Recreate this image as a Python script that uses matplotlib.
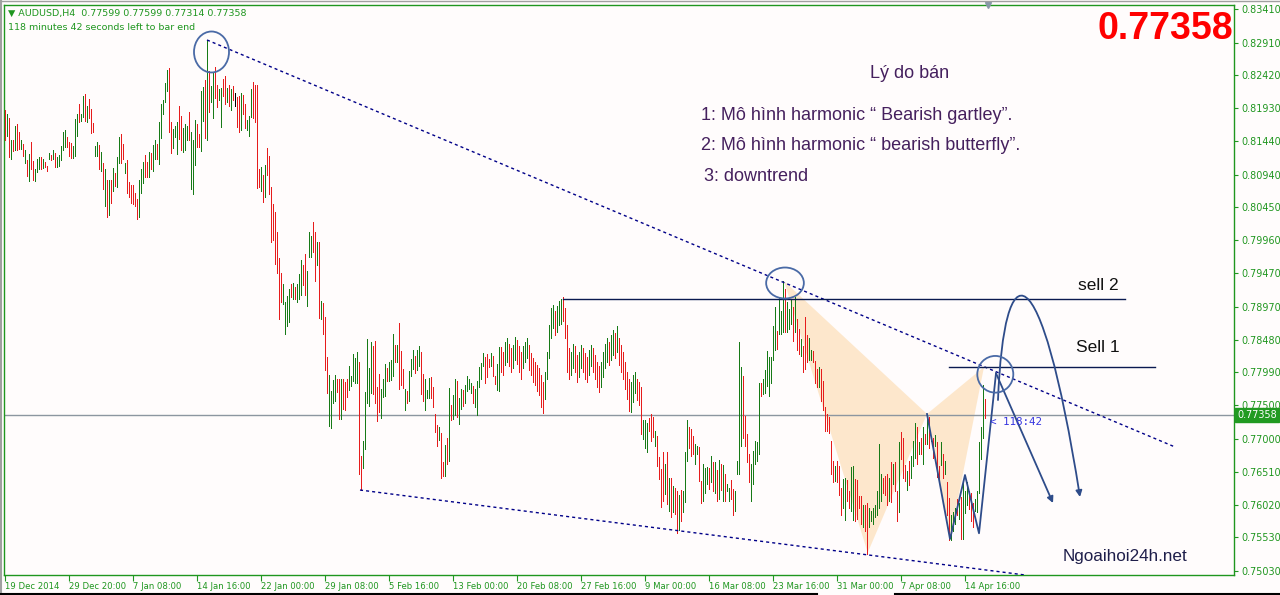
import numpy as np
import matplotlib
matplotlib.use("Agg")
import matplotlib.pyplot as plt
import matplotlib.transforms as mtransforms
from matplotlib.patches import Ellipse, Polygon, FancyArrowPatch
from matplotlib.path import Path
from matplotlib.lines import Line2D

# --- AUDUSD H4 bars, high / low in pips (1 pip = 0.0001) ---
high_pips = [
    # 19 Dec - 29 Dec
    8190, 8184, 8179, 8146, 8146, 8167, 8170, 8158, 8145, 8140,
    8130, 8116, 8125, 8142, 8115, 8102, 8118, 8121, 8120, 8118,
    8113, 8107, 8127, 8124, 8130, 8127, 8121, 8124, 8136, 8158,
    8160, 8150, 8142, 8141, 8137, 8177, 8185, 8200, 8185, 8212,
    8214, 8196, 8207, 8192, 8171, 8137, 8143, 8138,
    # 30 Dec - 14 Jan
    8128, 8112, 8103, 8086, 8086, 8086, 8104, 8097, 8121, 8150,
    8155, 8139, 8112, 8116, 8083, 8079, 8079, 8067, 8057, 8086,
    8103, 8113, 8123, 8113, 8128, 8127, 8138, 8145, 8139, 8172,
    8200, 8206, 8230, 8250, 8253, 8172, 8162, 8167, 8172, 8196,
    8181, 8163, 8170, 8167, 8187, 8158, 8145, 8176, 8170, 8155,
    # 14 Jan - 28 Jan
    8218, 8225, 8235, 8295, 8248, 8226, 8246, 8255, 8228, 8222,
    8223, 8236, 8241, 8223, 8228, 8222, 8226, 8216, 8210, 8211,
    8215, 8213, 8200, 8176, 8182, 8221, 8232, 8228, 8227, 8102,
    8105, 8093, 8108, 8134, 8122, 8075, 8050, 8039, 8008, 7969,
    7947, 7931, 7904, 7913, 7924, 7931, 7933, 7926, 7931, 7946,
    # 28 Jan - 12 Feb
    7966, 7959, 7975, 7951, 8008, 8002, 8023, 8009, 7993, 7994,
    7905, 7903, 7881, 7822, 7795, 7772, 7788, 7795, 7789, 7790,
    7789, 7789, 7785, 7789, 7809, 7794, 7827, 7820, 7830, 7815,
    7674, 7697, 7770, 7849, 7805, 7844, 7839, 7846, 7778, 7797,
    7774, 7790, 7812, 7805, 7814, 7818, 7856, 7840, 7840, 7873,
    # 12 Feb - 19 Feb
    7831, 7804, 7774, 7772, 7801, 7819, 7832, 7824, 7833, 7839,
    7829, 7796, 7789, 7773, 7791, 7792, 7778, 7737, 7720, 7718,
    7708, 7665, 7691, 7702, 7776, 7751, 7766, 7789, 7787, 7761,
    7774, 7773, 7781, 7793, 7789, 7783, 7779, 7774, 7787, 7807,
    7813, 7828, 7822, 7827, 7819, 7828, 7824, 7794, 7811, 7837,
    # 20 Feb - 6 Mar
    7837, 7830, 7845, 7850, 7842, 7835, 7840, 7852, 7848, 7838,
    7830, 7838, 7845, 7850, 7840, 7828, 7820, 7815, 7810, 7805,
    7795, 7785, 7800, 7830, 7870, 7895, 7900, 7890, 7898, 7905,
    7908, 7912, 7895, 7870, 7835, 7830, 7842, 7838, 7825, 7830,
    7840, 7835, 7828, 7822, 7832, 7840, 7835, 7825, 7815, 7808,
    7815, 7830, 7842, 7850, 7845, 7855, 7862, 7858, 7868, 7850,
    7840, 7830, 7815, 7800, 7790, 7785, 7795, 7800, 7790, 7785,
    # 9 Mar - 17 Apr
    7777, 7728, 7728, 7723, 7731, 7737, 7733, 7712, 7705, 7673,
    7655, 7680, 7663, 7680, 7641, 7642, 7630, 7627, 7622, 7616,
    7623, 7622, 7680, 7728, 7717, 7715, 7705, 7692, 7690, 7688,
    7637, 7663, 7656, 7658, 7657, 7675, 7665, 7666, 7653, 7668,
    7662, 7661, 7647, 7633, 7626, 7638, 7625, 7622, 7667, 7845,
    7807, 7794, 7734, 7707, 7678, 7662, 7682, 7697, 7695, 7784,
    7784, 7789, 7802, 7831, 7822, 7822, 7869, 7896, 7861, 7911,
    7891, 7935, 7924, 7904, 7894, 7909, 7896, 7912, 7879, 7864,
    7849, 7839, 7881, 7855, 7851, 7832, 7831, 7816, 7804, 7807,
    7804, 7787, 7747, 7737, 7732, 7697, 7667, 7660, 7667, 7660,
    7626, 7640, 7641, 7638, 7622, 7658, 7660, 7640, 7638, 7615,
    7615, 7602, 7601, 7605, 7597, 7593, 7597, 7602, 7622, 7693,
    7647, 7642, 7645, 7647, 7642, 7665, 7662, 7665, 7622, 7696,
    7710, 7702, 7661, 7652, 7667, 7675, 7697, 7724, 7717, 7695,
    7702, 7717, 7707, 7736, 7732, 7705, 7702, 7706, 7695, 7660,
    7695, 7678, 7667, 7636, 7612, 7587, 7591, 7597, 7611, 7605,
    7613, 7637, 7622, 7635, 7622, 7620, 7605, 7610, 7622, 7695,
    7717, 7781, 7760,
]
low_pips = [
    8145, 8152, 8120, 8118, 8129, 8131, 8131, 8132, 8132, 8122,
    8112, 8092, 8084, 8102, 8086, 8084, 8098, 8103, 8102, 8104,
    8105, 8100, 8117, 8116, 8118, 8105, 8106, 8107, 8116, 8130,
    8135, 8135, 8122, 8119, 8119, 8122, 8152, 8173, 8174, 8180,
    8174, 8173, 8179, 8156, 8157, 8122, 8122, 8102,
    8099, 8073, 8047, 8031, 8034, 8052, 8070, 8077, 8076, 8112,
    8112, 8117, 8097, 8066, 8060, 8051, 8050, 8047, 8028, 8031,
    8066, 8081, 8090, 8090, 8090, 8102, 8100, 8117, 8117, 8110,
    8148, 8185, 8203, 8218, 8158, 8127, 8133, 8150, 8125, 8147,
    8131, 8128, 8131, 8145, 8145, 8073, 8065, 8108, 8135, 8135,
    8129, 8174, 8149, 8145, 8187, 8202, 8178, 8208, 8195, 8206,
    8165, 8212, 8200, 8202, 8196, 8191, 8205, 8196, 8165, 8157,
    8160, 8185, 8164, 8160, 8152, 8180, 8178, 8172, 8074, 8075,
    8069, 8053, 8060, 8093, 8065, 7993, 7997, 7961, 7947, 7879,
    7904, 7901, 7856, 7869, 7874, 7911, 7909, 7909, 7904, 7909,
    7915, 7930, 7915, 7898, 7971, 7971, 7978, 7936, 7959, 7880,
    7879, 7856, 7802, 7769, 7719, 7716, 7754, 7757, 7770, 7729,
    7729, 7744, 7743, 7762, 7773, 7779, 7787, 7784, 7784, 7647,
    7624, 7657, 7685, 7753, 7749, 7769, 7767, 7754, 7727, 7740,
    7731, 7762, 7764, 7787, 7787, 7788, 7794, 7814, 7815, 7774,
    7781, 7776, 7743, 7754, 7756, 7793, 7804, 7798, 7803, 7809,
    7767, 7756, 7743, 7761, 7761, 7761, 7748, 7710, 7690, 7698,
    7641, 7645, 7645, 7663, 7667, 7728, 7730, 7736, 7733, 7722,
    7744, 7749, 7753, 7771, 7774, 7769, 7754, 7747, 7736, 7777,
    7789, 7808, 7784, 7792, 7807, 7808, 7793, 7782, 7773, 7771,
    7800, 7795, 7810, 7815, 7808, 7800, 7805, 7818, 7812, 7800,
    7790, 7805, 7815, 7820, 7802, 7795, 7785, 7780, 7772, 7765,
    7748, 7738, 7760, 7790, 7820, 7850, 7865, 7855, 7860, 7870,
    7872, 7875, 7850, 7800, 7790, 7795, 7805, 7800, 7785, 7792,
    7805, 7800, 7790, 7785, 7795, 7808, 7800, 7790, 7778, 7770,
    7778, 7792, 7805, 7815, 7810, 7818, 7825, 7820, 7830, 7810,
    7800, 7790, 7775, 7760, 7742, 7740, 7755, 7768, 7758, 7750,
    7707, 7700, 7687, 7680, 7712, 7697, 7703, 7690, 7660, 7640,
    7598, 7607, 7618, 7603, 7593, 7584, 7591, 7588, 7559, 7564,
    7578, 7591, 7606, 7667, 7687, 7675, 7677, 7663, 7677, 7637,
    7605, 7608, 7620, 7632, 7625, 7635, 7622, 7620, 7608, 7610,
    7623, 7608, 7608, 7622, 7607, 7610, 7587, 7593, 7647, 7647,
    7690, 7702, 7690, 7665, 7635, 7607, 7632, 7662, 7667, 7677,
    7764, 7767, 7769, 7779, 7764, 7784, 7817, 7832, 7834, 7856,
    7856, 7859, 7860, 7859, 7864, 7871, 7846, 7859, 7833, 7827,
    7824, 7799, 7804, 7814, 7817, 7817, 7814, 7784, 7777, 7778,
    7757, 7743, 7712, 7712, 7708, 7647, 7635, 7637, 7635, 7617,
    7587, 7597, 7579, 7607, 7597, 7593, 7579, 7578, 7580, 7597,
    7573, 7568, 7563, 7529, 7568, 7578, 7573, 7584, 7587, 7597,
    7607, 7620, 7617, 7602, 7607, 7606, 7633, 7622, 7578, 7591,
    7670, 7642, 7637, 7623, 7631, 7642, 7660, 7672, 7663, 7678,
    7677, 7663, 7692, 7692, 7687, 7697, 7672, 7690, 7643, 7635,
    7661, 7642, 7647, 7587, 7549, 7549, 7563, 7573, 7586, 7580,
    7550, 7550, 7590, 7602, 7596, 7578, 7568, 7592, 7591, 7620,
    7670, 7702, 7731,
]
# bar colour: g = up bar, r = down bar, k = doji
bar_dir = (
    "rgrgrgrrgr" "grgrrgggrg" "rrgrgrgggg" "grrrgggrgg" "rgrrrggr"
    "grgrgrgrgg" "rrgrrrrrrg" "ggrrgrggrg" "ggggrrgggr" "rgggrgggrr"
    "ggrgrggrrg" "grrgrgrkrr" "grrgggrrrr" "grgrrrrrrr" "rggggrgrgg"
    "grrgggrrgr" "grrrggggrr" "grrrgggggr" "rgggggrrrr" "gggrgggrgr"
    "rrgrgggrgg" "rrgggrrrrg" "rrgrgrggrg" "grggggrggg" "ggrrrgrrgg"
    "rrggrrggrr" "rgggrrrrrr" "rrgggggrgg" "grrrrggrrg" "grrrggrrrr"
    "ggggrggrgr" "rrrrrgggrr"
    "rgggrrrgrr" "rrgrgrgrrg" "rgggrrrggr" "rgggrgrgrg" "rgrggrrggg"
    "grrrrggggg" "rgggggggrg" "ggrgggrgrr" "grrrggrrrg" "rrrrrrrgrr"
    "rggrrggrrr" "rgrrgggggg" "grrrgrgrrg" "rrrgrgggrg" "rgrgrgrgrr"
    "grgrrgggrg" "rgggrrrggg" "ggr"
)

date_ticks = [0, 32, 64, 96, 128, 160, 192, 224, 256, 288, 320, 352, 384, 416, 448, 480]
date_labels = ["19 Dec 2014", "29 Dec 20:00", "7 Jan 08:00", "14 Jan 16:00", "22 Jan 00:00",
               "29 Jan 08:00", "5 Feb 16:00", "13 Feb 00:00", "20 Feb 08:00", "27 Feb 16:00",
               "9 Mar 00:00", "16 Mar 08:00", "23 Mar 16:00", "31 Mar 00:00", "7 Apr 08:00",
               "14 Apr 16:00"]
price_ticks = [0.83410, 0.82910, 0.82420, 0.81930, 0.81440, 0.80940, 0.80450, 0.79960, 0.79470,
               0.78970, 0.78480, 0.77990, 0.77500, 0.77000, 0.76510, 0.76020, 0.75530, 0.75030]
last_price = 0.77358
last_ohlc = "0.77599 0.77599 0.77314 0.77358"

# --- drawn objects, anchored at (bar index, price) ---
trend_top = [(101, 0.82948), (585, 0.76879)]
trend_bottom = [(177.5, 0.76237), (510, 0.74970)]
sell2_line = (279, 560, 0.79086)
sell1_line = (472, 575, 0.78072)
gartley = [(389.5, 0.79354), (431.35, 0.75302), (461, 0.77371)]
butterfly = [(461, 0.77371), (472.5, 0.75507), (489.5, 0.78072)]
zigzag = [(461, 0.77371), (472.5, 0.75507), (480, 0.76461), (487, 0.75592), (495.5, 0.77978)]
drop_arrow = [(495.5, 0.77978), (524, 0.76043)]
bounce_curve = [(496.5, 0.77579), (499.5, 0.79816), (517.5, 0.79891), (537.5, 0.76133)]
circles = [(103.25, 0.82769, 17.5, 0.00611),
           (390, 0.79324, 18.85, 0.00462),
           (495.15, 0.77963, 18, 0.00547)]

W, H = 1280, 595
BG = '#fffcfc'
GREEN = '#1f961f'
UP = '#177a17'
DOWN = '#e61c1c'
NAVY = '#000088'
DRAW = '#2e4c8a'

fig = plt.figure(figsize=(W / 100, H / 100), dpi=100, facecolor=BG)
ax = fig.add_axes([4 / W, 1 - 574.5 / H, 1230 / W, 569.5 / H], facecolor=BG)
ax.set_xlim(-0.5, 614.5)
ax.set_ylim(0.8341 - 565.5 / 6706, 0.8341 + 4 / 6706)

# bars (1 px wide)
n = min(len(high_pips), len(low_pips), len(bar_dir))
x = np.arange(n)
hi = np.array(high_pips[:n]) / 1e4
lo = np.array(low_pips[:n]) / 1e4
cmap = {'g': UP, 'r': DOWN, 'k': 'black'}
ax.vlines(x, lo, hi, colors=[cmap[c] for c in bar_dir[:n]], linewidth=0.7,
          antialiased=False, zorder=3)

# current price line
ax.axhline(last_price, color='#8c96a0', linewidth=1.0, zorder=2)

# harmonic patterns
for tri in (gartley, butterfly):
    ax.add_patch(Polygon(tri, closed=True, facecolor='#fde4c4', edgecolor='none',
                         alpha=0.85, zorder=1))

# trend lines
for line in (trend_top, trend_bottom):
    (x0, y0), (x1, y1) = line
    ax.plot([x0, x1], [y0, y1], color=NAVY, linewidth=1.0, linestyle=(0, (2.2, 2.2)), zorder=4)

# sell levels
for b0, b1, p in (sell2_line, sell1_line):
    ax.plot([b0, b1], [p, p], color='#0a1a50', linewidth=1.0, zorder=4)

# projection drawings
zx, zy = zip(*zigzag)
ax.plot(zx, zy, color=DRAW, linewidth=1.3, zorder=5)
ax.annotate('', xy=drop_arrow[1], xytext=drop_arrow[0],
            arrowprops=dict(arrowstyle='-|>', color=DRAW, lw=1.3, mutation_scale=9,
                            shrinkA=0, shrinkB=0), zorder=5)
curve = Path(bounce_curve, [Path.MOVETO, Path.CURVE4, Path.CURVE4, Path.CURVE4])
ax.add_patch(FancyArrowPatch(path=curve, arrowstyle='-|>', color=DRAW, lw=1.3,
                             mutation_scale=9, zorder=5))

for cx, cy, w, h in circles:
    ax.add_patch(Ellipse((cx, cy), w, h, fill=False, edgecolor='#4a6aa6', linewidth=1.3,
                         zorder=6))

# axes styling
for s in ax.spines.values():
    s.set_color(GREEN)
    s.set_linewidth(1.0)
ax.yaxis.tick_right()
ax.set_yticks(price_ticks)
ax.set_yticklabels([f"{p:.5f}" for p in price_ticks])
ax.tick_params(axis='y', colors=GREEN, labelsize=6.9, length=3, width=0.8, pad=2)
ax.set_xticks(date_ticks)
ax.set_xticklabels(date_labels, ha='left')
ax.tick_params(axis='x', colors=GREEN, labelsize=6.1, length=4, width=0.8, pad=1.5)

# current price box on the price scale
box_tr = mtransforms.blended_transform_factory(ax.transAxes, ax.transData)
ax.text(1.0028, last_price, f"{last_price:.5f}", transform=box_tr, ha='left', va='center',
        color='white', fontsize=6.9, clip_on=False, zorder=10,
        bbox=dict(boxstyle='square,pad=0.22', facecolor='#219a21', edgecolor='#219a21'))
ax.plot([491.5], [ax.get_ylim()[1]], marker='v', color='#8898a8', markersize=5,
        clip_on=False, zorder=10)


def fx(px):
    return px / W


def fy(py):
    return 1 - py / H


# header
fig.text(fx(8), fy(13), f"\u25bc AUDUSD,H4  {last_ohlc}", color=GREEN, fontsize=6.8,
         va='center', ha='left')
fig.text(fx(8), fy(27), "118 minutes 42 seconds left to bar end", color=GREEN, fontsize=6.8,
         va='center', ha='left')

fig.text(fx(1233), fy(29), f"{last_price:.5f}", color='#ff0000', fontsize=27,
         fontweight='bold', family='Liberation Sans', ha='right', va='center')

TXT = '#45205e'
fig.text(fx(870), fy(73), "Lý do bán", color=TXT, fontsize=13, family='Liberation Sans',
         ha='left', va='center')
fig.text(fx(701), fy(116), "1: Mô hình harmonic \u201c Bearish gartley\u201d.", color=TXT,
         fontsize=13, family='Liberation Sans', ha='left', va='center')
fig.text(fx(701), fy(145), "2: Mô hình harmonic \u201c bearish butterfly\u201d.", color=TXT,
         fontsize=13, family='Liberation Sans', ha='left', va='center')
fig.text(fx(704), fy(176), "3: downtrend", color=TXT, fontsize=13, family='Liberation Sans',
         ha='left', va='center')

fig.text(fx(1078), fy(285), "sell 2", color='#111111', fontsize=12.5, family='Liberation Sans',
         ha='left', va='center')
fig.text(fx(1076), fy(347), "Sell 1", color='#111111', fontsize=12.5, family='Liberation Sans',
         ha='left', va='center')
fig.text(fx(1063), fy(556), "Ngoaihoi24h.net", color='#1e1e4a', fontsize=12.3,
         family='Liberation Sans', ha='left', va='center')
fig.text(fx(990), fy(422), "< 118:42", color='#3535e0', fontsize=7.8,
         family='DejaVu Sans Mono', ha='left', va='center')

# window edges
fig.add_artist(Line2D([0, 1], [fy(0.5), fy(0.5)], color='#a0a0a0', linewidth=1.0))
fig.add_artist(Line2D([fx(0.8), fx(0.8)], [0, 1], color='#a0a0a0', linewidth=1.5))
fig.add_artist(Line2D([0, fx(817)], [fy(594), fy(594)], color='black', linewidth=1.5))
fig.add_artist(Line2D([fx(895), 1], [fy(594), fy(594)], color='black', linewidth=1.5))

fig.savefig("out.png", dpi=100, facecolor=BG)
